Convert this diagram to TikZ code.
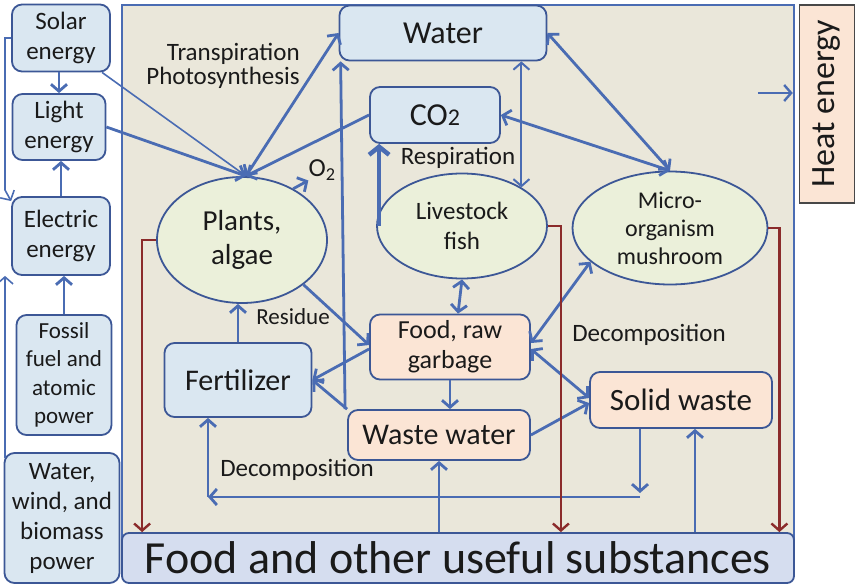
\documentclass[tikz,border=0pt]{standalone}
\usepackage{fontspec}
\setmainfont{Carlito}
\usetikzlibrary{shapes.geometric,arrows.meta}

\definecolor{framebg}{HTML}{EAE7DA}
\definecolor{lineblue}{HTML}{4A6CB3}
\definecolor{edgeblue}{HTML}{3C5796}
\definecolor{boxblue}{HTML}{DAE7F1}
\definecolor{boxorange}{HTML}{FBE5D5}
\definecolor{ovalgreen}{HTML}{EBF0DA}
\definecolor{barblue}{HTML}{D5DDEF}
\definecolor{darkred}{HTML}{8B2B2B}
\definecolor{inkgray}{HTML}{1A1A1A}

\newcommand{\fsize}[2]{\fontsize{#1}{#2}\selectfont}

\tikzset{
  stock/.style={draw=edgeblue, line width=1.8pt, rounded corners=10pt, fill=boxblue,
    align=center, inner sep=0pt, text=inkgray},
  waste/.style={stock, fill=boxorange},
  organism/.style={ellipse, draw=edgeblue, line width=1.8pt, fill=ovalgreen,
    align=center, inner sep=0pt, text=inkgray},
  tag/.style={inner sep=0pt, text=inkgray},
  flow/.style={draw=lineblue, line width=2.8pt, -{Straight Barb[length=7pt,width=16pt]}},
  flowboth/.style={flow, {Straight Barb[length=7pt,width=16pt]}-{Straight Barb[length=7pt,width=16pt]}},
  thinflow/.style={flow, line width=1.6pt},
  decay/.style={draw=darkred, line width=2.4pt, -{Straight Barb[length=7pt,width=16pt]}}
}

\begin{document}
\begin{tikzpicture}[x=1pt,y=-1pt]
\useasboundingbox (0,0) rectangle (861,588);

% ecosystem frame
\draw[draw=lineblue, line width=2pt, fill=framebg] (122,5) rectangle (794,557);

% energy sources
\node[stock, minimum width=98pt, minimum height=67pt, font=\fsize{25}{30}] (solar) at (61,38)
  {Solar\\energy};
\node[stock, minimum width=93pt, minimum height=66pt, font=\fsize{25}{30}] (light) at (59,127)
  {Light\\energy};
\node[stock, minimum width=98pt, minimum height=78pt, font=\fsize{25}{30}] (electric) at (61,236)
  {Electric\\energy};
\node[stock, minimum width=95pt, minimum height=120pt, font=\fsize{23}{28.5}] (fossil) at (64,375)
  {Fossil\\fuel and\\atomic\\power};
\node[stock, minimum width=115pt, minimum height=130pt, font=\fsize{25}{30}] (waterwind) at (62,518)
  {Water,\\wind, and\\biomass\\power};

% output boxes
\node[stock, fill=barblue, rounded corners=7pt, minimum width=672pt, minimum height=50pt,
  font=\fsize{46}{46}] (foodbar) at (458,558) {Food and other useful substances};
\node[draw=inkgray!80, line width=1.5pt, fill=boxorange, inner sep=0pt, text=inkgray,
  minimum width=55pt, minimum height=198pt, font=\fsize{34}{34}] (heat) at (827,104)
  {\rotatebox{90}{Heat energy}};

% cycle members
\node[stock, minimum width=207pt, minimum height=55pt, font=\fsize{32}{32}] (water) at (443,33)
  {Water};
\node[stock, minimum width=130pt, minimum height=56pt, font=\fsize{32}{32}] (co2) at (435,115)
  {CO{\fsize{24}{24}2}};
\node[organism, minimum width=170pt, minimum height=126pt, font=\fsize{29}{34}] (plants) at (242,240)
  {Plants,\\algae};
\node[organism, minimum width=170pt, minimum height=105pt, font=\fsize{25}{30}] (livestock) at (462,226)
  {Livestock\\fish};
\node[organism, minimum width=195pt, minimum height=113pt, font=\fsize{24}{28}] (micro) at (670,228)
  {Micro-\\organism\\mushroom};
\node[waste, minimum width=160pt, minimum height=65pt, font=\fsize{26}{30}] (food) at (450,347)
  {Food, raw\\garbage};
\node[stock, minimum width=147pt, minimum height=74pt, font=\fsize{30}{30}] (fertilizer) at (238,380)
  {Fertilizer};
\node[waste, minimum width=182pt, minimum height=50pt, font=\fsize{30}{30}] (wastewater) at (439,435)
  {Waste water};
\node[waste, minimum width=182pt, minimum height=56pt, font=\fsize{31}{31}] (solidwaste) at (681,400)
  {Solid waste};

% labels
\node[tag, align=right, font=\fsize{25}{24}] (transp) at (223,66) {Transpiration\\Photosynthesis};
\node[tag, font=\fsize{26}{26}] (o2) at (322,170) {O\textsubscript{2}};
\node[tag, font=\fsize{25}{25}] (resp) at (458,158) {Respiration};
\node[tag, font=\fsize{23}{23}] (residue) at (293,317) {Residue};
\node[tag, font=\fsize{25}{25}] (decoright) at (649,335) {Decomposition};
\node[tag, font=\fsize{25}{25}] (decoleft) at (297,470) {Decomposition};

\coordinate (leftrail) at (5,190);
\coordinate (railfoot) at (5,458);
\coordinate (ptop) at (246,176);
\coordinate (decojoint) at (640,497);
\coordinate (decocorner) at (208,497);

% energy chain
\draw[flow] (light.north |- solar.south) -- (light.north);
\draw[flow] (electric.north) -- (electric.north |- light.south);
\draw[flow] (fossil.north) -- (fossil.north |- electric.south);
\draw[thinflow] (solar.west) -| (leftrail) -- (electric.145);
\draw[thinflow] (railfoot) -- (railfoot |- electric.south);
\draw[thinflow] (solar.320) -- (ptop);
\draw[flow] (light.east) -- (ptop);

% plants and gases
\draw[flowboth] (ptop) -- (water.west);
\draw[flow] (co2.west) -- (ptop);
\draw[flow] (plants.45) -- (o2.south west);
\draw[flow] ([xshift=-2pt]wastewater.north west) -- ([xshift=2pt]water.south west);
\draw[flowboth, line width=2pt] (livestock.33 |- water.south) -- (livestock.33);
\draw[flowboth] (water.east) -- (micro.north);
\draw[flowboth] (co2.east) -- (micro.north);
\draw[flow, line width=4.5pt, -{Straight Barb[length=8pt,width=20pt]}]
  ([xshift=3pt]livestock.west) -- ([xshift=3pt]livestock.west |- co2.south);

% food web
\draw[flowboth] (livestock.south) -- ([xshift=8pt]food.north);
\draw[flowboth] (micro.203) -- ([yshift=4pt]food.east);
\draw[flow] (plants.324) -- ([yshift=2pt]food.west);
\draw[flow] ([yshift=-2pt]food.west) -- (fertilizer.east);
\draw[flow] (wastewater.north west) -- (fertilizer.east);
\draw[flow] (fertilizer.north) -- (fertilizer.north |- plants.south);
\draw[flow] (food.south) -- (food.south |- wastewater.north);
\draw[flowboth] ([yshift=-2pt]food.east) -- ([yshift=2pt]solidwaste.west);
\draw[flow] (wastewater.east) -- ([yshift=-3pt]solidwaste.west);

% decomposition back to fertilizer
\draw[flow] (solidwaste.south -| decojoint) -- ([yshift=4pt]decojoint);
\draw[flow] (decojoint) -- (decocorner);
\draw[flow] (decocorner) -- (decocorner |- fertilizer.south);

% recycled products
\draw[flow] (wastewater.south |- foodbar.north) -- (wastewater.south);
\draw[flow] ([xshift=14pt]solidwaste.south |- foodbar.north) -- ([xshift=14pt]solidwaste.south);

% harvest
\draw[decay] (plants.west) -| ([xshift=-14pt]plants.west |- foodbar.north);
\draw[decay] (livestock.east) -| ([xshift=13pt]livestock.east |- foodbar.north);
\draw[decay] (micro.east) -| ([xshift=11pt]micro.east |- foodbar.north);

% heat loss
\draw[flow, line width=2.4pt] ([xshift=-41pt,yshift=11pt]heat.west) -- ([xshift=-6pt,yshift=11pt]heat.west);
\end{tikzpicture}
\end{document}
